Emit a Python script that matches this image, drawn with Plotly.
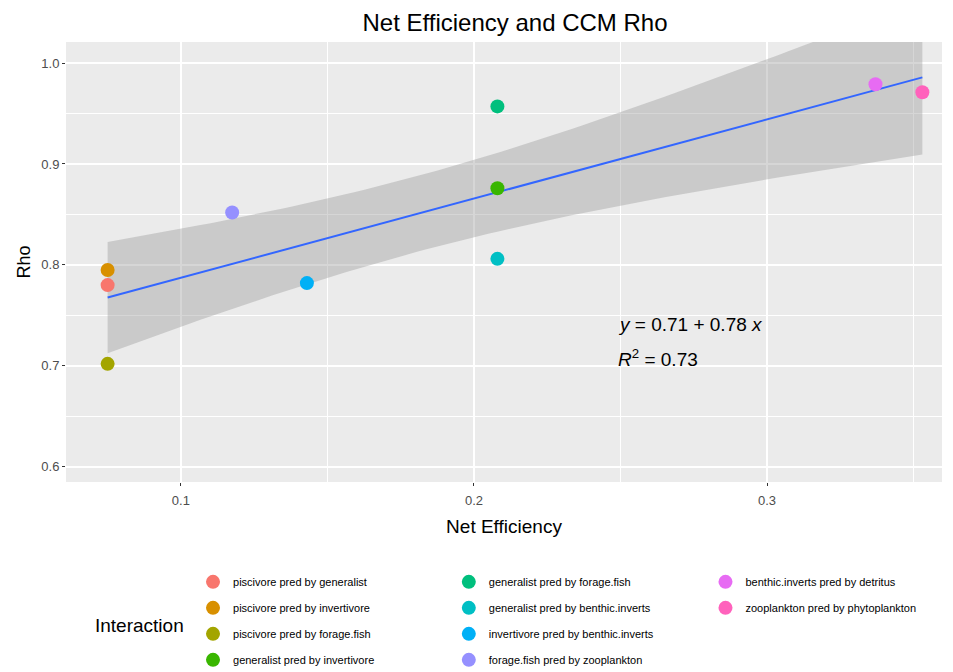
import numpy as np
import plotly.graph_objects as go

# ---- data ----
interactions = [
    "piscivore pred by generalist",
    "piscivore pred by invertivore",
    "piscivore pred by forage.fish",
    "generalist pred by invertivore",
    "generalist pred by forage.fish",
    "generalist pred by benthic.inverts",
    "invertivore pred by benthic.inverts",
    "forage.fish pred by zooplankton",
    "benthic.inverts pred by detritus",
    "zooplankton pred by phytoplankton",
]
net_efficiency = [0.075, 0.075, 0.075, 0.208, 0.208, 0.208, 0.143, 0.1175, 0.337, 0.353]
rho = [0.780, 0.795, 0.702, 0.876, 0.957, 0.806, 0.782, 0.852, 0.979, 0.971]
colors = ["#F8766D", "#D89000", "#A3A500", "#39B600", "#00BF7D",
          "#00BFC4", "#00B0F6", "#9590FF", "#E76BF3", "#FF62BC"]
x_ticks = [0.1, 0.2, 0.3]
y_ticks = [0.6, 0.7, 0.8, 0.9, 1.0]
eq_text = "<i>y</i> = 0.71 + 0.78 <i>x</i>"
r2_text = "<i>R</i><sup>2</sup> = 0.73"

# ---- regression with 95% CI ----
x = np.array(net_efficiency)
y = np.array(rho)
n = len(x)
b1, b0 = np.polyfit(x, y, 1)
resid = y - (b0 + b1 * x)
s = np.sqrt(np.sum(resid ** 2) / (n - 2))
t_val = 2.306  # t(0.975, df=8)
xs = np.linspace(x.min(), x.max(), 80)
ys = b0 + b1 * xs
se = s * np.sqrt(1 / n + (xs - x.mean()) ** 2 / np.sum((x - x.mean()) ** 2))
upper = ys + t_val * se
lower = ys - t_val * se

fig = go.Figure()
fig.add_trace(go.Scatter(
    x=np.concatenate([xs, xs[::-1]]), y=np.concatenate([upper, lower[::-1]]),
    fill="toself", fillcolor="rgba(153,153,153,0.4)", line=dict(width=0),
    hoverinfo="skip", showlegend=False, mode="lines"))
fig.add_trace(go.Scatter(x=xs, y=ys, mode="lines",
                         line=dict(color="#3366FF", width=2), showlegend=False))

legend_of = ["legend", "legend", "legend", "legend",
             "legend2", "legend2", "legend2", "legend2",
             "legend3", "legend3"]
for i, name in enumerate(interactions):
    fig.add_trace(go.Scatter(
        x=[net_efficiency[i]], y=[rho[i]], mode="markers", name=name,
        marker=dict(color=colors[i], size=14, line=dict(width=0)),
        legend=legend_of[i], legendgroup=name))

fig.add_annotation(x=0.2483, y=0.741, xref="x", yref="y", text=eq_text,
                   showarrow=False, xanchor="left", yanchor="middle",
                   font=dict(size=19, color="black"))
fig.add_annotation(x=0.2483, y=0.708, xref="x", yref="y", text=r2_text,
                   showarrow=False, xanchor="left", yanchor="middle",
                   font=dict(size=19, color="black"))
fig.add_annotation(x=0.031, y=-0.325, xref="paper", yref="paper", text="Interaction",
                   showarrow=False, xanchor="left", yanchor="middle",
                   font=dict(size=19, color="black"))

leg_common = dict(orientation="v", yanchor="top", xanchor="left",
                  font=dict(size=11, color="black"), bgcolor="rgba(0,0,0,0)",
                  tracegroupgap=7, itemsizing="trace")
fig.update_layout(
    width=953, height=672,
    margin=dict(l=66, r=11, t=42, b=190, autoexpand=False),
    paper_bgcolor="white", plot_bgcolor="#EBEBEB",
    font=dict(family="Liberation Sans, Arial, sans-serif"),
    title=dict(text="Net Efficiency and CCM Rho", x=0.5126, xref="paper",
               y=0.967, yref="container", xanchor="center", yanchor="middle",
               font=dict(size=24, color="black")),
    xaxis=dict(range=[0.0608, 0.3597], tickvals=x_ticks, ticktext=[str(v) for v in x_ticks],
               showgrid=True, gridcolor="white", gridwidth=1.5,
               minor=dict(dtick=0.05, tick0=0.05, showgrid=True, gridcolor="white", gridwidth=0.7),
               ticks="outside", ticklen=3, tickcolor="#333333", ticklabelstandoff=3,
               tickfont=dict(size=13, color="#4D4D4D"), zeroline=False,
               title=dict(text="Net Efficiency", font=dict(size=19, color="black"), standoff=13)),
    yaxis=dict(range=[0.585, 1.0208], tickvals=y_ticks, ticktext=[f"{v:.1f}" for v in y_ticks],
               showgrid=True, gridcolor="white", gridwidth=1.5,
               minor=dict(dtick=0.05, tick0=0.05, showgrid=True, gridcolor="white", gridwidth=0.7),
               ticks="outside", ticklen=3, tickcolor="#333333",
               tickfont=dict(size=13, color="#4D4D4D"), zeroline=False,
               title=dict(text="Rho", font=dict(size=18, color="black"), standoff=6)),
    legend=dict(x=0.145, y=-0.194, **leg_common),
    legend2=dict(x=0.437, y=-0.194, **leg_common),
    legend3=dict(x=0.73, y=-0.194, **leg_common),
)

fig.write_html("out.html")
